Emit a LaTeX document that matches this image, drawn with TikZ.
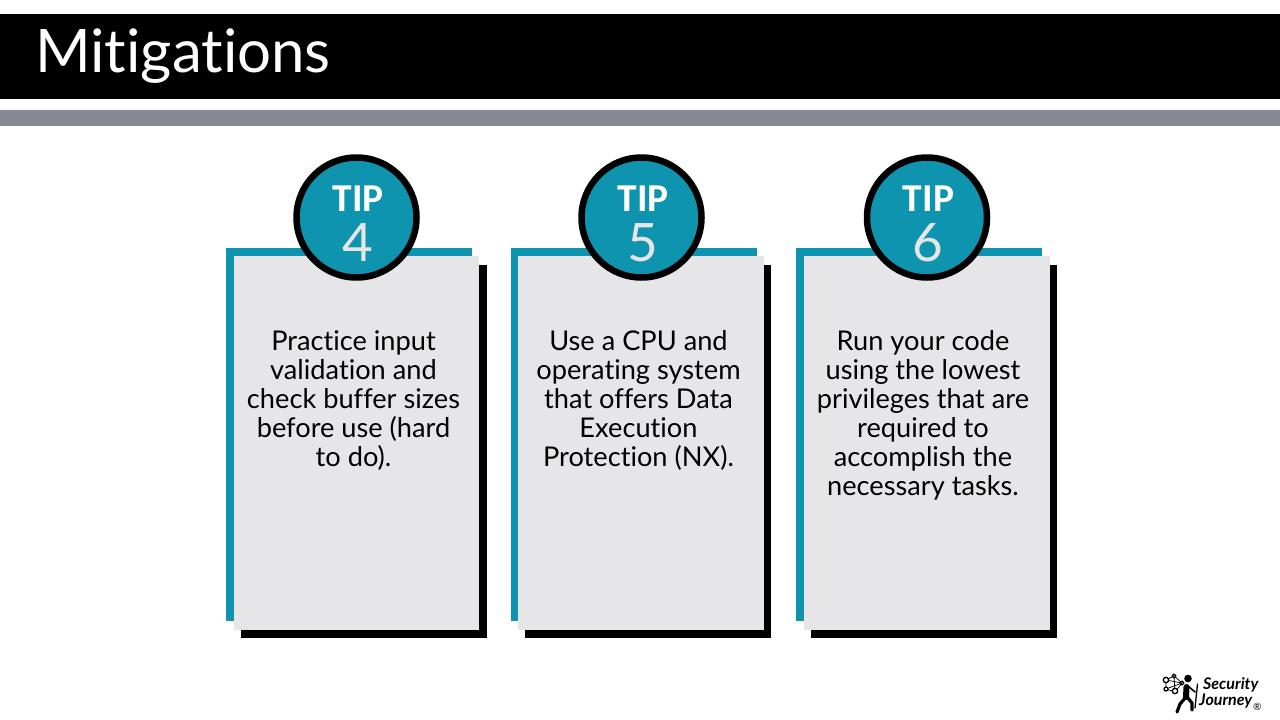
\documentclass[tikz,border=0pt]{standalone}
\usepackage{fontspec}
\setmainfont[Ligatures={TeX,NoCommon}]{Lato}
\newfontfamily\tipfont{Carlito}
\definecolor{teal1}{HTML}{0E94AF}
\definecolor{card}{HTML}{E6E6E8}
\definecolor{band}{HTML}{868892}
\tikzset{
  x=1pt,y=-1pt,
  bodytext/.style={align=center,font=\fontsize{27.2}{28.9}\selectfont,text=black,inner sep=0pt,anchor=north},
  tiplabel/.style={font=\tipfont\bfseries\fontsize{39.5}{39.5}\selectfont,text=white,inner sep=0pt},
  numlabel/.style={font=\fontsize{53}{53}\selectfont,text=card,inner sep=0pt},
  badge/.style={circle,draw=black,line width=6.5pt,fill=teal1,minimum size=120pt,inner sep=0pt},
}
\newcommand{\tipcard}[8]{%
  % #1 name #2 left #3 circle cx #4 number #5 text #6 text cx #7 text top #8 shadow/face left
  \fill[teal1] (#2,248) rectangle ++(246,373);
  \fill[black] (#8+7,265) rectangle ++(246,373);
  \fill[card] (#8,256) rectangle ++(245.5,374);
  \node[badge] (#1) at (#3,217.5) {};
  \node[tiplabel] (#1t) at (#3+1.5,199) {TIP};
  \node[numlabel] (#1n) at (#3+1,243) {#4};
  \node[bodytext] (#1b) at (#6,#7) {#5};
}
\begin{document}
\begin{tikzpicture}
\useasboundingbox (0,0) rectangle (1280,720);
\fill[white] (0,0) rectangle (1280,720);
\fill[black] (0,14) rectangle (1280,99);
\fill[band] (0,110) rectangle (1280,126);
\node[anchor=base west,inner sep=0pt,text=white,font=\fontsize{60}{60}\selectfont] (title) at (35,72) {Mitigations};
\tipcard{a}{226}{356.5}{4}{Practice input\\validation and\\check buffer sizes\\before use (hard\\to do).}{353.5}{330.5}{233.5}
\tipcard{b}{511}{641.5}{5}{Use a CPU and\\operating system\\that offers Data\\Execution\\Protection (NX).}{638.5}{330.5}{518}
\tipcard{c}{796}{927}{6}{Run your code\\using the lowest\\privileges that are\\required to\\accomplish the\\necessary tasks.}{923}{330.5}{804}
% logo
\begin{scope}[line cap=round,line join=round]
  \draw[black,line width=.7pt] (1166,680) -- (1174,676) -- (1182,683) -- (1175,692) -- (1166,689) -- cycle (1166,680) -- (1182,683) (1166,689) -- (1182,683) (1174,676) -- (1175,692);
  \filldraw[fill=white,draw=black,line width=1.3pt] (1166,680) circle (2.7) (1174,676) circle (1.9) (1182,683) circle (1.9) (1175,691) circle (2.7) (1166,689) circle (2);
  \fill[black] (1188,678.5) circle (3.8);
  \draw[black,line width=6pt] (1186.5,687) -- (1186,697);
  \draw[black,line width=3.2pt] (1186,697) -- (1180,704) -- (1177,712);
  \draw[black,line width=3.2pt] (1187,697) -- (1192,703) -- (1192,710);
  \draw[black,line width=1.6pt] (1188,686) -- (1195,692);
  \draw[black,line width=1.3pt] (1197.5,684) -- (1195,708);
\end{scope}
\node[anchor=west,inner sep=0pt,font=\bfseries\itshape\fontsize{16}{16}\selectfont] (logo1) at (1203,685) {Security};
\node[anchor=west,inner sep=0pt,font=\bfseries\itshape\fontsize{16}{16}\selectfont] (logo2) at (1199,701) {Journey};
\node[anchor=west,inner sep=0pt,font=\fontsize{10}{10}\selectfont] (logo3) at (1253,707) {®};
\end{tikzpicture}
\end{document}
